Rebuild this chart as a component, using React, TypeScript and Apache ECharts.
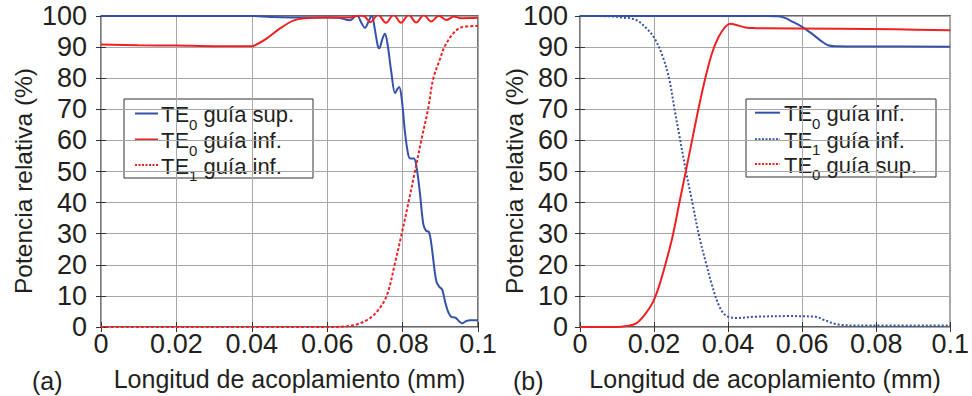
import React, { useEffect, useRef } from 'react';
import * as echarts from 'echarts';

const FONT = '"Liberation Sans", Arial, Helvetica, sans-serif';
const TEXT = '#231f20';
const BLUE = '#3452a8';
const RED = '#ee2124';

const X_MIN = 0;
const X_MAX = 0.1;
const X_INTERVAL = 0.02;
const Y_MIN = 0;
const Y_MAX = 100;
const Y_INTERVAL = 10;

const X_TITLE = 'Longitud de acoplamiento (mm)';
const Y_TITLE = 'Potencia relativa (%)';
const PANEL_LABELS = ['(a)', '(b)'];

// Panel (a)
const aTE0Sup: [number, number][] = [
  [0, 100], [0.02, 100], [0.04, 100], [0.045, 99.7], [0.055, 99.5], [0.06, 99.5],
  [0.063, 99.4], [0.066, 98.6], [0.0678, 100.3], [0.0692, 97.5], [0.07, 96.2],
  [0.0709, 98], [0.0718, 100.2], [0.0726, 96], [0.0734, 90.5], [0.0738, 89.6],
  [0.0746, 92.5], [0.0753, 94.3], [0.076, 91], [0.077, 82], [0.078, 75.2],
  [0.0786, 76.5], [0.0791, 77.2], [0.0798, 73], [0.0806, 63], [0.0814, 56],
  [0.082, 54.2], [0.083, 54.2], [0.0838, 50.5], [0.0846, 43], [0.0855, 33],
  [0.0862, 31], [0.087, 30.5], [0.0877, 26], [0.0884, 19], [0.089, 14.5],
  [0.0897, 13], [0.0905, 12], [0.0913, 8], [0.0921, 4.8], [0.093, 3.2],
  [0.094, 3.0], [0.095, 1.8], [0.0958, 1.2], [0.0968, 1.9], [0.098, 2.2], [0.1, 2.2],
];
const aTE0Inf: [number, number][] = [
  [0, 90.8], [0.01, 90.6], [0.02, 90.5], [0.03, 90.3], [0.04, 90.3], [0.0415, 91],
  [0.044, 92.8], [0.0475, 96], [0.051, 98.5], [0.054, 99.3], [0.06, 99.5], [0.066, 99.5],
  [0.0685, 100.2], [0.07, 99.8], [0.0714, 98.0], [0.0735, 100.4], [0.0756, 97.8],
  [0.0776, 100.4], [0.0796, 97.8], [0.0816, 100.4], [0.0836, 97.9], [0.0856, 100.3],
  [0.0876, 98.2], [0.0896, 100.1], [0.0916, 98.7], [0.0936, 99.8], [0.0955, 99.3], [0.1, 99.4],
];
const aTE1Inf: [number, number][] = [
  [0, 0], [0.06, 0], [0.065, 0.2], [0.0675, 0.7], [0.0705, 2.2], [0.0731, 4.8],
  [0.0758, 10.1], [0.078, 20.7], [0.0798, 30.2], [0.0815, 39.7], [0.0833, 50.2],
  [0.0851, 60.8], [0.0868, 70.3], [0.0881, 79.7], [0.0899, 86.1], [0.0912, 90.3],
  [0.0935, 94.5], [0.0957, 96.4], [0.1, 96.8],
];

// Panel (b)
const bTE0Inf: [number, number][] = [
  [0, 100], [0.05, 100], [0.0535, 99.9], [0.0555, 99.3], [0.0575, 98.1], [0.06, 96.5],
  [0.0625, 94.4], [0.065, 92.1], [0.067, 90.6], [0.069, 90.3], [0.08, 90.2], [0.1, 90.1],
];
const bTE1Inf: [number, number][] = [
  [0, 100], [0.008, 99.9], [0.0116, 99.5], [0.0152, 98.7], [0.0179, 96.1], [0.0201, 92.9],
  [0.0223, 87.1], [0.0241, 79.7], [0.0255, 70.3], [0.0268, 61.8], [0.0286, 50.2],
  [0.0304, 39.7], [0.0322, 29.1], [0.034, 20.7], [0.0357, 13.3], [0.0375, 7.0],
  [0.0393, 3.8], [0.042, 2.9], [0.0474, 3.3], [0.0563, 3.5], [0.0635, 3.3],
  [0.0661, 2.2], [0.0697, 0.8], [0.075, 0.5], [0.1, 0.5],
];
const bTE0Sup: [number, number][] = [
  [0, 0], [0.01, 0], [0.0125, 0.3], [0.0152, 1.2], [0.0174, 3.8], [0.0197, 8.0],
  [0.0214, 13.3], [0.0232, 20.7], [0.025, 29.1], [0.0268, 39.7], [0.0286, 50.2],
  [0.0304, 60.8], [0.0322, 71.3], [0.034, 80.8], [0.0357, 88.2], [0.0375, 93.4],
  [0.0393, 96.6], [0.0407, 97.5], [0.042, 97.2], [0.0447, 96.3], [0.0474, 96.1],
  [0.07, 95.9], [0.085, 95.7], [0.1, 95.4],
];

type LegendRow = { sub: string; rest: string; color: string; dash: number[] | null };
const legendARows: LegendRow[] = [
  { sub: '0', rest: ' guía sup.', color: BLUE, dash: null },
  { sub: '0', rest: ' guía inf.', color: RED, dash: null },
  { sub: '1', rest: ' guía inf.', color: RED, dash: [2, 1.5] },
];
const legendBRows: LegendRow[] = [
  { sub: '0', rest: ' guía inf.', color: BLUE, dash: null },
  { sub: '1', rest: ' guía inf.', color: BLUE, dash: [2, 1.5] },
  { sub: '0', rest: ' guía sup.', color: RED, dash: [2, 1.5] },
];

function legend(bx: number, by: number, bw: number, bh: number, lx0: number, lx1: number, tx: number, rowY: number[], rows: LegendRow[]) {
  const fs = 22;
  const sfs = 15;
  const children: any[] = [
    { type: 'rect', shape: { x: bx, y: by, width: bw, height: bh }, style: { fill: '#fff', stroke: '#333', lineWidth: 1 } },
  ];
  rows.forEach((r, i) => {
    const y = rowY[i];
    children.push({ type: 'line', shape: { x1: lx0, y1: y, x2: lx1, y2: y }, style: { stroke: r.color, lineWidth: 2, lineDash: r.dash || undefined } });
    children.push({ type: 'text', x: tx, y: y + 1, style: { text: 'TE', fontSize: fs, fontFamily: FONT, fill: TEXT, align: 'left', verticalAlign: 'middle' } });
    const subX = tx + 1.278 * fs;
    children.push({ type: 'text', x: subX, y: y + 10.5, style: { text: r.sub, fontSize: sfs, fontFamily: FONT, fill: TEXT, align: 'left', verticalAlign: 'middle' } });
    children.push({ type: 'text', x: subX + 0.556 * sfs, y: y + 1, style: { text: r.rest, fontSize: fs, fontFamily: FONT, fill: TEXT, align: 'left', verticalAlign: 'middle' } });
  });
  return { type: 'group', z: 100, children };
}

const fmtX = (v: number) => String(Number(v.toFixed(3)));
const TICK_FONT = 27;

function xAxisFor(gridIndex: number, top: boolean) {
  return {
    type: 'value', gridIndex, min: X_MIN, max: X_MAX, interval: X_INTERVAL,
    position: top ? 'top' : 'bottom',
    name: top ? '' : X_TITLE, nameLocation: 'middle', nameGap: 39,
    nameTextStyle: { fontSize: 25, fontFamily: FONT, color: TEXT },
    axisLine: { show: false },
    axisTick: { show: true, inside: true, length: 5, lineStyle: { color: '#333', width: 1 } },
    axisLabel: { show: !top, fontSize: TICK_FONT, fontFamily: FONT, color: TEXT, margin: 3, formatter: fmtX },
    splitLine: { show: !top, lineStyle: { color: '#a8a8a8', width: 1 } },
  };
}
function yAxisFor(gridIndex: number, right: boolean, margin: number) {
  return {
    type: 'value', gridIndex, min: Y_MIN, max: Y_MAX, interval: Y_INTERVAL,
    position: right ? 'right' : 'left',
    axisLine: { show: false },
    axisTick: { show: true, inside: true, length: 5, lineStyle: { color: '#333', width: 1 } },
    axisLabel: { show: !right, fontSize: TICK_FONT, fontFamily: FONT, color: TEXT, margin },
    splitLine: { show: !right, lineStyle: { color: '#a8a8a8', width: 1 } },
  };
}

function lineSeries(data: [number, number][], xi: number, yi: number, color: string, dash: any) {
  return {
    type: 'line', data, xAxisIndex: xi, yAxisIndex: yi, showSymbol: false, smooth: 0.35,
    lineStyle: { color, width: 2, type: dash },
    silent: true,
  };
}

function yTitle(cx: number, cy: number) {
  return {
    type: 'text', x: cx, y: cy, rotation: Math.PI / 2,
    style: { text: Y_TITLE, fontSize: 24.5, fontFamily: FONT, fill: TEXT, align: 'center', verticalAlign: 'middle' },
  };
}

export default function App() {
  const ref = useRef<HTMLDivElement>(null);
  useEffect(() => {
    if (!ref.current) return;
    const chart = echarts.init(ref.current, undefined, { renderer: 'svg' });
    chart.setOption({
      animation: false,
      backgroundColor: '#fff',
      textStyle: { fontFamily: FONT },
      grid: [
        { left: 101, top: 16, width: 377, height: 316, show: true, borderColor: '#333', borderWidth: 1.3, backgroundColor: 'transparent' },
        { left: 580, top: 16, width: 373, height: 316, show: true, borderColor: '#333', borderWidth: 1.3, backgroundColor: 'transparent' },
      ],
      xAxis: [xAxisFor(0, false), xAxisFor(0, true), xAxisFor(1, false), xAxisFor(1, true)],
      yAxis: [yAxisFor(0, false, 14), yAxisFor(0, true, 0), yAxisFor(1, false, 12), yAxisFor(1, true, 0)],
      series: [
        lineSeries(aTE0Sup, 0, 0, BLUE, 'solid'),
        lineSeries(aTE0Inf, 0, 0, RED, 'solid'),
        lineSeries(aTE1Inf, 0, 0, RED, [3, 2]),
        lineSeries(bTE0Inf, 2, 2, BLUE, 'solid'),
        lineSeries(bTE1Inf, 2, 2, BLUE, [2, 2]),
        lineSeries(bTE0Sup, 2, 2, RED, 'solid'),
      ],
      graphic: [
        legend(124, 99, 189, 79, 135, 158, 161, [113.5, 139.5, 165], legendARows),
        legend(746, 99, 190, 78, 755, 780, 784, [112.7, 139.3, 164], legendBRows),
        yTitle(23, 181),
        yTitle(514, 181),
        { type: 'text', x: 32, y: 381, style: { text: PANEL_LABELS[0], fontSize: 25, fontFamily: FONT, fill: TEXT, align: 'left', verticalAlign: 'middle' } },
        { type: 'text', x: 513, y: 381, style: { text: PANEL_LABELS[1], fontSize: 25, fontFamily: FONT, fill: TEXT, align: 'left', verticalAlign: 'middle' } },
      ],
    });
    return () => chart.dispose();
  }, []);
  return <div ref={ref} style={{ position: 'fixed', left: 0, top: 0, width: 972, height: 396, background: '#fff' }} />;
}
